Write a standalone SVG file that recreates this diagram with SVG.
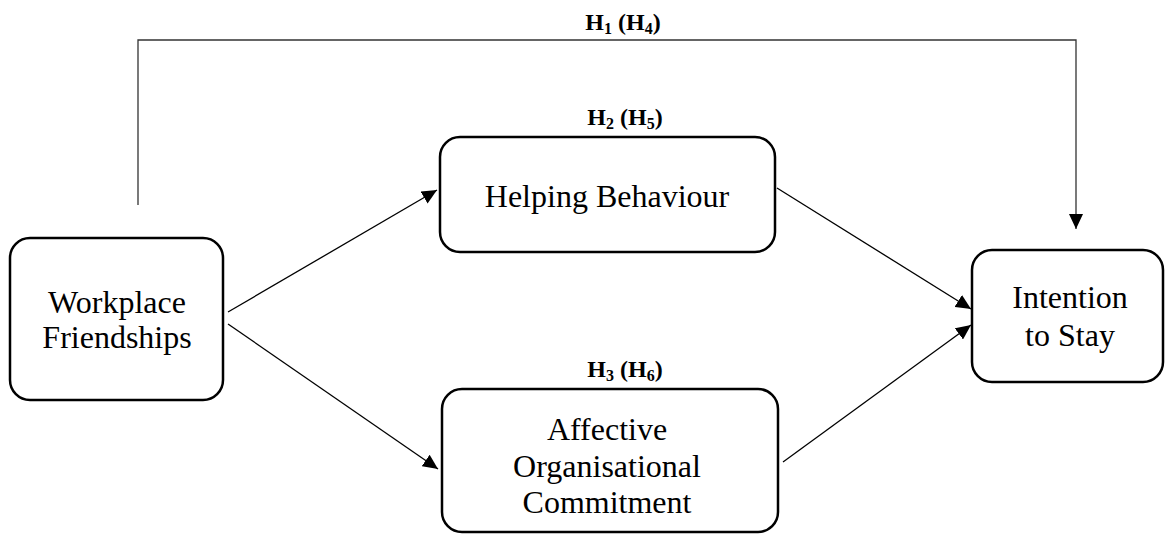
<svg xmlns="http://www.w3.org/2000/svg" width="1165" height="534" viewBox="0 0 1165 534">
<style>
.box{fill:#fff;stroke:#000;stroke-width:2.5}
.t{font-family:"Liberation Serif","Times New Roman",serif;font-size:32px;fill:#000;text-anchor:middle}
.h{font-family:"Liberation Serif","Times New Roman",serif;font-size:24px;font-weight:bold;fill:#000;text-anchor:middle}
.sub{font-size:16px}
.c{fill:none;stroke:#000;stroke-width:1.3}
</style>
<defs>
<marker id="arr" markerUnits="userSpaceOnUse" markerWidth="16" markerHeight="14" refX="15" refY="7" orient="auto">
<path d="M0,0 L15,7 L0,14 z" fill="#000"/>
</marker>
</defs>
<g id="connectors">
<polyline class="c" points="138,205 138,40 1076,40 1076,229" marker-end="url(#arr)" style="stroke:#333"/>
<line class="c" x1="228" y1="312" x2="437" y2="190" marker-end="url(#arr)"/>
<line class="c" x1="228" y1="324" x2="438" y2="469" marker-end="url(#arr)"/>
<line class="c" x1="777" y1="188" x2="971" y2="309" marker-end="url(#arr)"/>
<line class="c" x1="783" y1="462" x2="971" y2="325" marker-end="url(#arr)"/>
</g>
<g id="labels">
<text class="h" x="623" y="30">H<tspan class="sub" dy="4">1</tspan><tspan dy="-4"> (H</tspan><tspan class="sub" dy="4">4</tspan><tspan dy="-4">)</tspan></text>
<text class="h" x="625" y="125">H<tspan class="sub" dy="4">2</tspan><tspan dy="-4"> (H</tspan><tspan class="sub" dy="4">5</tspan><tspan dy="-4">)</tspan></text>
<text class="h" x="625" y="377">H<tspan class="sub" dy="4">3</tspan><tspan dy="-4"> (H</tspan><tspan class="sub" dy="4">6</tspan><tspan dy="-4">)</tspan></text>
</g>
<g id="workplace">
<rect class="box" x="10" y="238" width="213" height="162" rx="20"/>
<text class="t" x="117" y="313">Workplace</text>
<text class="t" x="117" y="348">Friendships</text>
</g>
<g id="helping">
<rect class="box" x="440" y="137" width="335" height="115" rx="20"/>
<text class="t" x="607" y="207">Helping Behaviour</text>
</g>
<g id="affective">
<rect class="box" x="442" y="389" width="336" height="143" rx="20"/>
<text class="t" x="607" y="440">Affective</text>
<text class="t" x="607" y="477">Organisational</text>
<text class="t" x="607" y="513">Commitment</text>
</g>
<g id="intention">
<rect class="box" x="972" y="250" width="191" height="132" rx="20"/>
<text class="t" x="1070" y="308">Intention</text>
<text class="t" x="1070" y="346">to Stay</text>
</g>
</svg>
